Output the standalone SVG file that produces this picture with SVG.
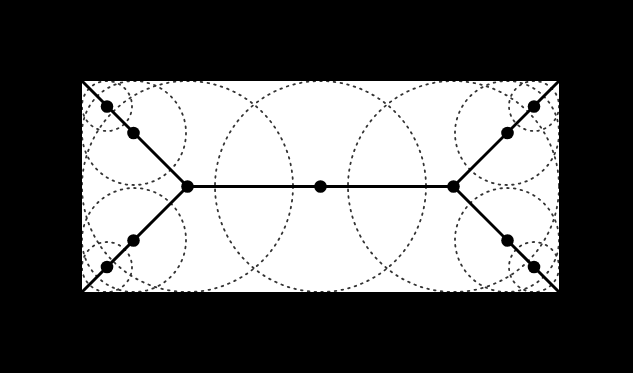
<svg xmlns="http://www.w3.org/2000/svg" width="633" height="373" viewBox="0 0 633 373">
  <style>
    .circ { fill: none; stroke: #333; stroke-width: 1.8; stroke-dasharray: 1.6 5.2; stroke-linecap: round; }
    .edge { fill: none; stroke: #000; stroke-width: 3; }
    .dot { fill: #000; }
  </style>
  <defs>
    <clipPath id="box"><rect x="82" y="81" width="477" height="211"/></clipPath>
  </defs>
  <rect width="633" height="373" fill="#000"/>
  <rect x="82" y="81" width="477" height="211" fill="#fff"/>
  <g id="circles" clip-path="url(#box)">
    <circle class="circ" cx="187.5" cy="186.5" r="105.5"/>
    <circle class="circ" cx="320.5" cy="186.5" r="105.5"/>
    <circle class="circ" cx="453.5" cy="186.5" r="105.5"/>
    <circle class="circ" cx="107" cy="106" r="25"/>
    <circle class="circ" cx="134" cy="133" r="52"/>
    <circle class="circ" cx="107" cy="267" r="25"/>
    <circle class="circ" cx="134" cy="240" r="52"/>
    <circle class="circ" cx="534" cy="106" r="25"/>
    <circle class="circ" cx="507" cy="133" r="52"/>
    <circle class="circ" cx="534" cy="267" r="25"/>
    <circle class="circ" cx="507" cy="240" r="52"/>
  </g>
  <g id="connectors">
    <line class="edge" x1="82" y1="81" x2="187.5" y2="186.5"/>
    <line class="edge" x1="82" y1="292" x2="187.5" y2="186.5"/>
    <line class="edge" x1="187.5" y1="186.5" x2="453.5" y2="186.5"/>
    <line class="edge" x1="559" y1="81" x2="453.5" y2="186.5"/>
    <line class="edge" x1="559" y1="292" x2="453.5" y2="186.5"/>
  </g>
  <g id="n-tl1"><circle class="dot" cx="107" cy="106.5" r="6.3"/></g>
  <g id="n-tl2"><circle class="dot" cx="133.5" cy="133" r="6.3"/></g>
  <g id="n-bl1"><circle class="dot" cx="107" cy="267" r="6.3"/></g>
  <g id="n-bl2"><circle class="dot" cx="133.5" cy="240.5" r="6.3"/></g>
  <g id="n-jl"><circle class="dot" cx="187.5" cy="186.5" r="6.3"/></g>
  <g id="n-c"><circle class="dot" cx="320.5" cy="186.5" r="6.3"/></g>
  <g id="n-jr"><circle class="dot" cx="453.5" cy="186.5" r="6.3"/></g>
  <g id="n-tr1"><circle class="dot" cx="534" cy="106.5" r="6.3"/></g>
  <g id="n-tr2"><circle class="dot" cx="507.5" cy="133" r="6.3"/></g>
  <g id="n-br1"><circle class="dot" cx="534" cy="267" r="6.3"/></g>
  <g id="n-br2"><circle class="dot" cx="507.5" cy="240.5" r="6.3"/></g>
</svg>
